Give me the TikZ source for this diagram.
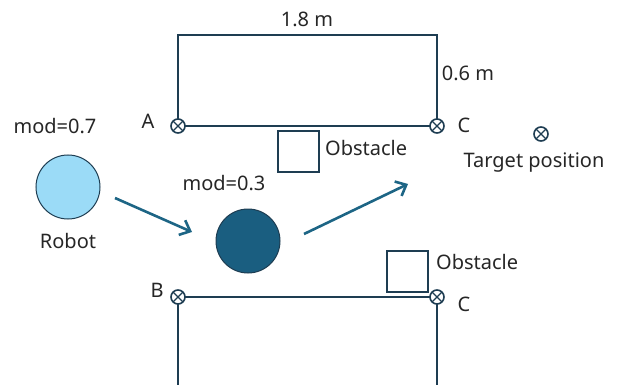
\documentclass[tikz,border=0pt]{standalone}
\usepackage{fontspec}
\setmainfont{Noto Sans}
\usetikzlibrary{arrows.meta}
\definecolor{navy}{HTML}{1E3D52}
\definecolor{arrowc}{HTML}{1D6585}
\definecolor{lightb}{HTML}{9BDBF7}
\definecolor{darkb}{HTML}{1A5E80}
\tikzset{
  wall/.style={draw=navy, line width=1.6pt},
  lbl/.style={font=\fontsize{20}{24}\selectfont, text=black!85, inner sep=0pt},
  obst/.style={draw=navy, line width=1.3pt, minimum size=41pt, inner sep=0pt},
  mv/.style={draw=arrowc, line width=2.6pt, -{Straight Barb[length=9pt,width=16pt,line width=2.6pt]}},
  mk/.pic={\draw[navy, line width=1.6pt, fill=white] (0,0) circle (7pt);
           \draw[navy, line width=1.3pt] (-4.9pt,-4.9pt) -- (4.9pt,4.9pt) (-4.9pt,4.9pt) -- (4.9pt,-4.9pt);}
}
\begin{document}
\begin{tikzpicture}[x=1pt,y=-1pt]
\useasboundingbox (0,0) rectangle (618,385);
% coordinates
\coordinate (A) at (178,126);
\coordinate (C1) at (437,126);
\coordinate (TL) at (178,35);
\coordinate (TR) at (437,35);
\coordinate (B) at (178,297);
\coordinate (C2) at (437,297);
\coordinate (BL) at (178,385);
\coordinate (BR) at (437,385);
\coordinate (T) at (541,134);
% walls
\draw[wall] (A) -- (TL) -- (TR) -- (C1) -- (A);
\draw[wall] (BL) -- (B) -- (C2) -- (BR);
% markers
\pic at (A) {mk};
\pic at (C1) {mk};
\pic at (B) {mk};
\pic at (C2) {mk};
\pic at (T) {mk};
% labels
\node[lbl] (l18) at (307,19) {1.8 m};
\node[lbl] (l06) at (468,73) {0.6 m};
\node[lbl] (lA) at (148,121) {A};
\node[lbl] (lC1) at (464,125) {C};
\node[lbl] (lB) at (157,290) {B};
\node[lbl] (lC2) at (464,304) {C};
\node[lbl] (lT) at (534,163) {Target position};
% obstacles
\node[obst] (o1) at (298.5,151.5) {};
\node[lbl, anchor=west] (o1l) at (325,148) {Obstacle};
\node[obst] (o2) at (407.5,271.5) {};
\node[lbl, anchor=west] (o2l) at (436,262) {Obstacle};
% robots
\node[lbl] (m7) at (55,126) {mod=0.7};
\node[circle, draw=navy, line width=1pt, fill=lightb, minimum size=64pt, inner sep=0pt] (r1) at (68,187) {};
\node[lbl] (rl) at (68,241) {Robot};
\node[lbl] (m3) at (224,183) {mod=0.3};
\node[circle, draw=navy, line width=1pt, fill=darkb, minimum size=64pt, inner sep=0pt] (r2) at (248,241) {};
% arrows
\coordinate (a1s) at (115,198);
\coordinate (a1e) at (192,232);
\coordinate (a2s) at (304,234);
\coordinate (a2e) at (408,184);
\draw[mv] (a1s) -- (a1e);
\draw[mv] (a2s) -- (a2e);
\end{tikzpicture}
\end{document}
